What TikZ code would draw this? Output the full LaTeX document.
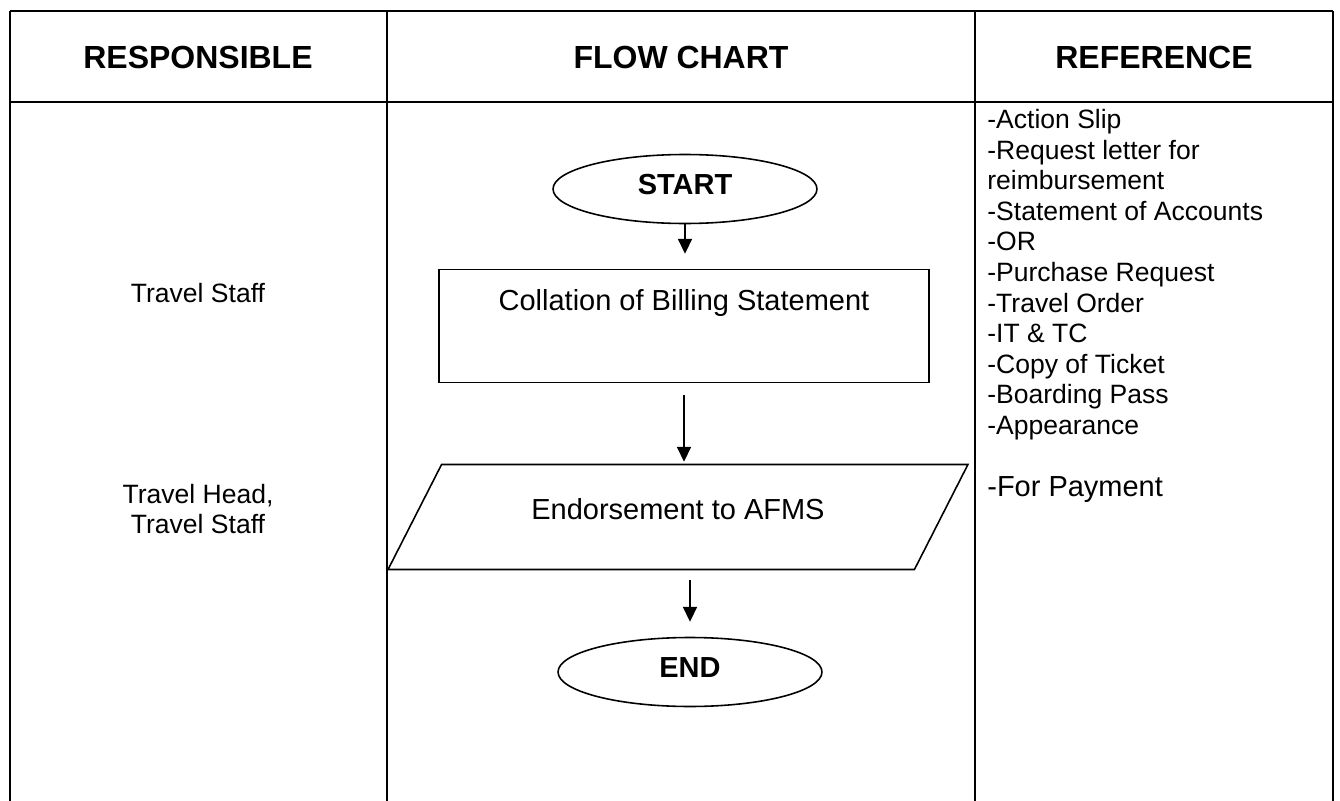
\documentclass[tikz,border=0pt]{standalone}
\usepackage{fontspec}
\setmainfont{Liberation Sans}
\usetikzlibrary{arrows.meta, shapes.geometric}

\begin{document}
\begin{tikzpicture}[
    x=0.02cm, y=-0.02cm,
    >={Triangle[length=8.5pt, width=8pt]},
    grid/.style={line width=1.4pt},
    head/.style={font=\fontsize{18.2}{21}\selectfont\bfseries},
    who/.style={align=center, font=\fontsize{15.1}{17.4}\selectfont},
    terminal/.style={draw, ellipse, line width=0.9pt, inner sep=0pt, minimum width=5.28cm, minimum height=1.38cm, text height=0.42cm, text depth=0.2cm, font=\fontsize{16.5}{19}\selectfont\bfseries},
    process/.style={draw, rectangle, line width=0.9pt, minimum width=9.8cm, minimum height=2.26cm, text height=0.42cm, text depth=1.04cm, font=\fontsize{16.5}{19}\selectfont},
    io/.style={draw, trapezium, trapezium left angle=63, trapezium right angle=117, trapezium stretches body, line width=0.9pt, inner sep=0pt, minimum width=11.6cm, text height=1.09cm, text depth=1.01cm, font=\fontsize{16.5}{19}\selectfont},
    flow/.style={->, line width=1.1pt}
]
\useasboundingbox (0,0) rectangle (1340,801);

% table
\draw[grid] (10,11) -- (1333,11);
\draw[grid] (10,102) -- (1333,102);
\draw[grid] (10,11) -- (10,801);
\draw[grid] (387,11) -- (387,801);
\draw[grid] (975,11) -- (975,801);
\draw[grid] (1333,11) -- (1333,801);

\node[head] (hresp) at (198,57) {RESPONSIBLE};
\node[head] (hflow) at (681,57) {FLOW CHART};
\node[head] (href) at (1154,57) {REFERENCE};

% responsible
\node[who] (staff) at (198,293) {Travel Staff};
\node[who] (headstaff) at (198,509) {Travel Head,\\Travel Staff};

% flow chart
\node[terminal] (start) at (685,189) {START};
\node[process] (collation) at (684,326) {Collation of Billing Statement};
\node[io] (endorse) at (678,517) {Endorsement to AFMS};
\node[terminal] (finish) at (690,672) {END};

\draw[flow, shorten >=0.3cm] (start.south) -- (start.south |- collation.north);
\draw[flow, shorten <=0.24cm, shorten >=0.04cm] (collation.south) -- (collation.south |- endorse.north);
\draw[flow, shorten <=0.2cm, shorten >=0.3cm] (finish.north |- endorse.south) -- (finish.north);

% reference
\node[anchor=north west, inner sep=0pt, align=left, font=\fontsize{15.1}{17.4}\selectfont] (reflist) at (987,109) {-Action Slip\\-Request letter for\\reimbursement\\-Statement of Accounts\\-OR\\-Purchase Request\\-Travel Order\\-IT \& TC\\-Copy of Ticket\\-Boarding Pass\\-Appearance};
\node[anchor=west, inner sep=0pt, font=\fontsize{16.5}{19}\selectfont] (payment) at (987,490) {-For Payment};

\end{tikzpicture}
\end{document}
